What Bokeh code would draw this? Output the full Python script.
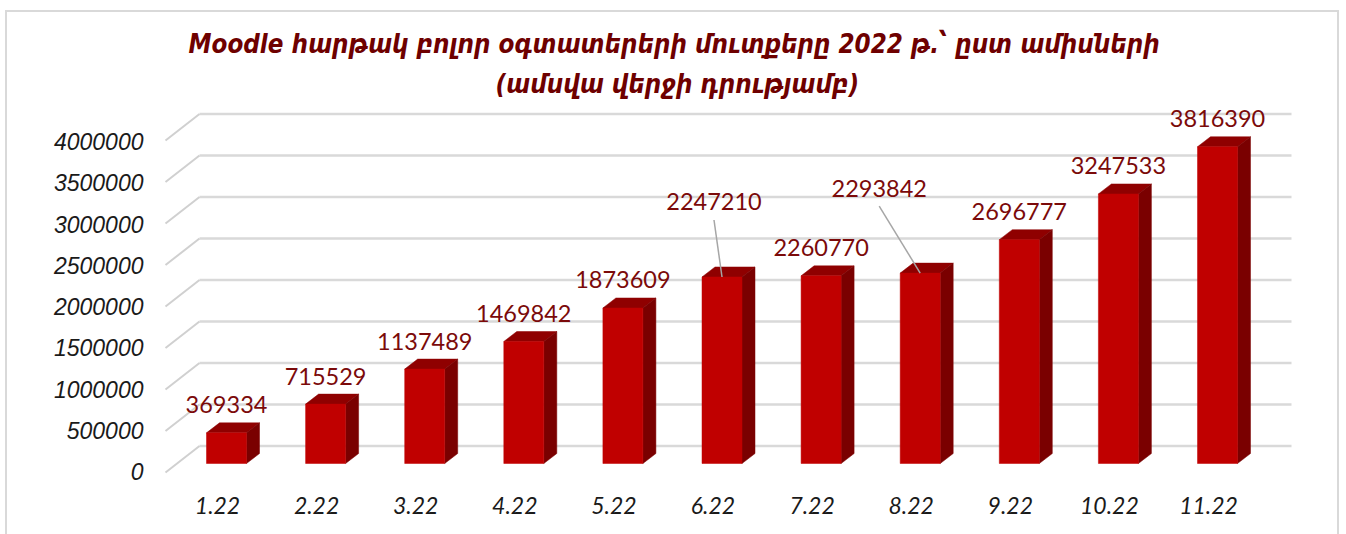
from bokeh.plotting import figure
from bokeh.embed import file_html
from bokeh.resources import INLINE
from bokeh.models import ColumnDataSource, Range1d, LinearAxis, FixedTicker, Title
from bokeh.core.properties import value

TITLE_LINE_1 = "Moodle հարթակ բոլոր օգտատերերի մուտքերը 2022 թ.՝ ըստ ամիսների"
TITLE_LINE_2 = "(ամսվա վերջի դրությամբ)"
months = ["1.22", "2.22", "3.22", "4.22", "5.22", "6.22", "7.22", "8.22", "9.22", "10.22", "11.22"]
users = [369334, 715529, 1137489, 1469842, 1873609, 2247210, 2260770, 2293842, 2696777, 3247533, 3816390]
grid_values = [0, 500000, 1000000, 1500000, 2000000, 2500000, 3000000, 3500000, 4000000]

# Figure size; the frame and scale calibration below are in figure pixels
W, H = 1334, 524
OX, OY = 8, 13                # figure origin in the window
L, R, T, B = 160 - OX, 1300 - OX, 100 - OY, 490 - OY
X0, DX = 227.0 - OX, 99.1     # centre of the first bar, bar pitch
Y0, KY = 464.0 - OY, 0.0830e-3  # bar foot, pixels per unit
BAR_W = 40
DEPTH_X, DEPTH_Y = 13, 10     # bar depth
WALL_X0, WALL_Y0 = 200 - OX, 446.5 - OY  # back wall origin
FLOOR_X, FLOOR_Y = 34, 26.5   # wall-to-front diagonal
GRID_R = 1292 - OX

px = lambda dx: dx / DX       # horizontal pixels to index units
py = lambda dy: dy / KY       # vertical pixels to value units

p = figure(width=W, height=H, output_backend="svg", toolbar_location=None,
           margin=(10, 0, 0, 5),
           styles={"border-top": "2px solid #d9d9d9", "border-left": "2px solid #d9d9d9",
                   "border-right": "2px solid #d9d9d9"},
           min_border_left=L, min_border_right=W - R, min_border_top=T, min_border_bottom=H - B,
           x_range=Range1d((L - X0) / DX, (R - X0) / DX),
           y_range=Range1d((Y0 - B) / KY, (Y0 - T) / KY))
for text, offset, standoff in ((TITLE_LINE_2, 336, 2), (TITLE_LINE_1, 29, 13)):
    p.add_layout(Title(text=text, align="left", offset=offset, standoff=standoff,
                       text_font="DejaVu Sans Condensed", text_font_size="25.7px",
                       text_font_style="bold italic", text_color="#6e0000"), "above")

p.xaxis.visible = False
p.yaxis.visible = False
p.xgrid.visible = False
p.ygrid.visible = False
p.outline_line_color = None
p.background_fill_color = "white"
p.border_fill_color = "white"

# Axes of the front edge of the floor
LAB_X0, LAB_DX = 218.0 - OX, 99.1
LAB_Y0, LAB_K = 472.0 - OY, 0.0825e-3
p.extra_x_ranges["front"] = Range1d((L - LAB_X0) / LAB_DX, (R - LAB_X0) / LAB_DX)
p.extra_y_ranges["front"] = Range1d((LAB_Y0 - B) / LAB_K, (LAB_Y0 - T) / LAB_K)

xa = LinearAxis(x_range_name="front", ticker=FixedTicker(ticks=list(range(len(months)))),
                major_label_overrides={i: m for i, m in enumerate(months)})
ya = LinearAxis(y_range_name="front", ticker=FixedTicker(ticks=grid_values),
                major_label_overrides={v: str(v) for v in grid_values})
for ax in (xa, ya):
    ax.axis_line_color = None
    ax.major_tick_line_color = None
    ax.minor_tick_line_color = None
    ax.major_label_text_font_style = "italic"
    ax.major_label_text_color = "#1a1a1a"
xa.major_label_text_font = "Lato"
xa.major_label_text_font_size = "23px"
xa.major_label_standoff = 1
ya.major_label_text_font = "Liberation Sans"
ya.major_label_text_font_size = "23px"
ya.major_label_standoff = 10
p.add_layout(xa, "below")
p.add_layout(ya, "left")

# Walls
grid_color = "#d9d9d9"
wall_y = [v + py(Y0 - WALL_Y0) for v in grid_values]
wall_x0 = px(WALL_X0 - X0)
wall_x1 = px(GRID_R - X0)
p.segment(x0=[wall_x0] * len(wall_y), x1=[wall_x1] * len(wall_y), y0=wall_y, y1=wall_y,
          line_color=grid_color, line_width=2.5)
p.segment(x0=[wall_x0] * len(wall_y), x1=[wall_x0 - px(FLOOR_X)] * len(wall_y),
          y0=wall_y, y1=[y - py(FLOOR_Y) for y in wall_y],
          line_color="#d0d0d0", line_width=2)

# Bars
hw = px(BAR_W / 2)
ddx, ddy = px(DEPTH_X), py(DEPTH_Y)
idx = list(range(len(users)))
p.patches(xs=[[i - hw, i + hw, i + hw + ddx, i - hw + ddx] for i in idx],
          ys=[[v, v, v + ddy, v + ddy] for v in users],
          fill_color="#8f0000", line_color="#8f0000", line_width=0.5)
p.patches(xs=[[i + hw, i + hw + ddx, i + hw + ddx, i + hw] for i in idx],
          ys=[[0, ddy, v + ddy, v] for v in users],
          fill_color="#7a0000", line_color="#7a0000", line_width=0.5)
p.quad(left=[i - hw for i in idx], right=[i + hw for i in idx], bottom=[0] * len(idx), top=users,
       fill_color="#c00000", line_color="#c00000", line_width=0.5)

# Data labels; two of them were moved away from their bars and carry a leader line
label_shift = {5: (-8, -75), 7: (-41, -85)}
xoff = [label_shift.get(i, (0, -28))[0] for i in idx]
yoff = [label_shift.get(i, (0, -28))[1] for i in idx]
src = ColumnDataSource(dict(x=idx, y=users, t=[str(v) for v in users], xoff=xoff, yoff=yoff))
p.text(x="x", y="y", text="t", x_offset="xoff", y_offset="yoff", source=src,
       text_font=value("Lato"), text_font_size="23.5px", text_color="#7b0a0a",
       text_align="center", text_baseline="middle")
lead = [i for i in label_shift]
p.segment(x0=lead, y0=[users[i] for i in lead],
          x1=[i + px(label_shift[i][0]) for i in lead],
          y1=[users[i] - py(label_shift[i][1] + 18) for i in lead],
          line_color="#a6a6a6", line_width=1.5)

open("out.html", "w").write(file_html(p, INLINE))
